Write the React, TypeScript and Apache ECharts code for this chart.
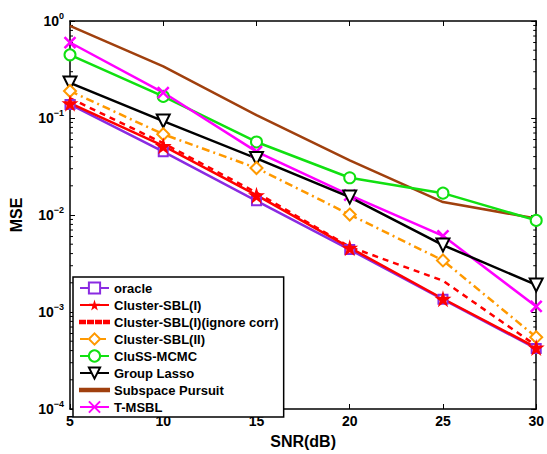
import React, { useEffect, useRef } from "react";
import * as echarts from "echarts";

const snr = [5, 10, 15, 20, 25, 30];
const oracle = [0.138, 0.045, 0.014, 0.0044, 0.00135, 0.00042];
const clusterSBL1 = [0.142, 0.0516, 0.016, 0.0046, 0.00137, 0.00043];
const clusterSBL1Ignore = [0.16, 0.055, 0.017, 0.0047, 0.0021, 0.00045];
const clusterSBL2 = [0.19, 0.068, 0.0305, 0.0101, 0.0034, 0.00055];
const clussMCMC = [0.448, 0.167, 0.0566, 0.0242, 0.0168, 0.0088];
const groupLasso = [0.23, 0.093, 0.0383, 0.0153, 0.0049, 0.0019];
const subspacePursuit = [0.89, 0.34, 0.107, 0.0366, 0.0136, 0.0092];
const tMSBL = [0.6, 0.183, 0.045, 0.016, 0.0061, 0.00114];

const legendNames = [
  "oracle",
  "Cluster-SBL(I)",
  "Cluster-SBL(I)(ignore corr)",
  "Cluster-SBL(II)",
  "CluSS-MCMC",
  "Group Lasso",
  "Subspace Pursuit",
  "T-MSBL",
];

const decades = [1e-4, 1e-3, 1e-2, 1e-1];
const minorMultipliers = [2, 3, 4, 5, 6, 7, 8, 9];
const superscripts: Record<string, string> = {
  "1": "0",
  "0.1": "−1",
  "0.01": "−2",
  "0.001": "−3",
  "0.0001": "−4",
};

const STAR = "path://M50,0 L61,35 L98,35 L68,57 L79,91 L50,70 L21,91 L32,57 L2,35 L39,35 Z";
const TRI_DOWN = "path://M0,0 L20,0 L10,18 Z";
const XMARK = "path://M0,0 L10,10 M10,0 L0,10";
const SOLID_ICON = "path://M0,0 H29 V2.5 H0 Z";
const DASH_ICON = "path://M0,0 H5 V2.5 H0 Z M8,0 H13 V2.5 H8 Z M16,0 H21 V2.5 H16 Z M24,0 H29 V2.5 H24 Z";

export default function App() {
  const ref = useRef<HTMLDivElement>(null);
  useEffect(() => {
    if (!ref.current) return;
    const chart = echarts.init(ref.current, undefined, { renderer: "svg" });
    const font = "Liberation Sans, Arial, Helvetica, sans-serif";
    const mk = (d: number[]) => d.map((v, i) => [snr[i], v]);
    const minorTicks: number[][] = [];
    decades.forEach((d) => minorMultipliers.forEach((m) => minorTicks.push([5, m * d])));

    const line = (
      name: string,
      data: number[],
      color: string,
      symbol: string,
      symbolSize: number,
      extra: any = {}
    ) => ({
      name,
      type: "line",
      data: mk(data),
      symbol,
      symbolSize,
      showSymbol: symbol !== "none",
      lineStyle: { color, width: 2.5, type: extra.lineType || "solid" },
      itemStyle: extra.itemStyle || { color, borderColor: color, borderWidth: 2 },
      z: extra.z || 2,
    });

    const yLabel = {
      show: true,
      margin: 6,
      formatter: (v: number) => {
        const key = String(v);
        const s = superscripts[key];
        return s ? `{b|10}{s|${s}}` : "";
      },
      rich: {
        b: { fontSize: 14, fontWeight: "bold", fontFamily: font, color: "#000" },
        s: { fontSize: 9, fontWeight: "bold", fontFamily: font, color: "#000", padding: [0, 0, 10, 0] },
      },
    };

    const tickStyle = { inside: true, length: 5, lineStyle: { color: "#000" } };

    chart.setOption({
      animation: false,
      backgroundColor: "#fff",
      grid: { left: 70, right: 9, top: 21, bottom: 32 },
      xAxis: [
        {
          type: "value",
          min: 5,
          max: 30,
          interval: 5,
          name: "SNR(dB)",
          nameLocation: "middle",
          nameGap: 24,
          nameTextStyle: { fontSize: 16, fontWeight: "bold", fontFamily: font, color: "#000" },
          axisLine: { lineStyle: { color: "#000", width: 1.5 } },
          axisTick: tickStyle,
          axisLabel: { fontSize: 14, fontWeight: "bold", fontFamily: font, color: "#000", margin: 5 },
          splitLine: { show: false },
        },
        {
          type: "value",
          position: "top",
          min: 5,
          max: 30,
          interval: 5,
          axisLine: { lineStyle: { color: "#000", width: 1.5 } },
          axisTick: tickStyle,
          axisLabel: { show: false },
          splitLine: { show: false },
        },
      ],
      yAxis: [
        {
          type: "log",
          logBase: 10,
          min: 1e-4,
          max: 1,
          name: "MSE",
          nameLocation: "middle",
          nameGap: 46,
          nameTextStyle: { fontSize: 16, fontWeight: "bold", fontFamily: font, color: "#000" },
          axisLine: { show: true, lineStyle: { color: "#000", width: 1.5 } },
          axisTick: { show: true, ...tickStyle },
          axisLabel: yLabel,
          splitLine: { show: false },
        },
        {
          type: "log",
          logBase: 10,
          min: 1e-4,
          max: 1,
          position: "right",
          axisLine: { show: true, lineStyle: { color: "#000", width: 1.5 } },
          axisTick: { show: true, ...tickStyle },
          axisLabel: { show: false },
          splitLine: { show: false },
        },
      ],
      legend: {
        left: 73,
        top: 277,
        orient: "vertical",
        backgroundColor: "#fff",
        borderColor: "#000",
        borderWidth: 1.5,
        padding: [4, 5, 3, 6],
        itemGap: 3,
        itemWidth: 29,
        itemHeight: 14,
        textStyle: { fontSize: 13, lineHeight: 14, fontWeight: "bold", fontFamily: font, color: "#000" },
        data: legendNames.map((n) =>
          n === "Subspace Pursuit"
            ? { name: n, icon: SOLID_ICON }
            : n === "Cluster-SBL(I)(ignore corr)"
            ? { name: n, icon: DASH_ICON }
            : { name: n }
        ),
      },
      series: [
        {
          name: "minorTicks",
          type: "custom",
          data: minorTicks,
          silent: true,
          clip: false,
          z: 1,
          renderItem: (params: any, api: any) => {
            const cs = params.coordSys;
            const y = api.coord([5, api.value(1)])[1];
            return {
              type: "group",
              children: [
                { type: "line", shape: { x1: cs.x, y1: y, x2: cs.x + 3, y2: y }, style: { stroke: "#000", lineWidth: 1 } },
                {
                  type: "line",
                  shape: { x1: cs.x + cs.width - 3, y1: y, x2: cs.x + cs.width, y2: y },
                  style: { stroke: "#000", lineWidth: 1 },
                },
              ],
            };
          },
        },
        line("Subspace Pursuit", subspacePursuit, "#a0400e", "none", 0),
        line("CluSS-MCMC", clussMCMC, "#11e011", "emptyCircle", 11),
        line("T-MSBL", tMSBL, "#ff00ff", XMARK, 11, {
          itemStyle: { color: "rgba(0,0,0,0)", borderColor: "#ff00ff", borderWidth: 2.5 },
        }),
        line("Group Lasso", groupLasso, "#000000", TRI_DOWN, 13, {
          itemStyle: { color: "#fff", borderColor: "#000", borderWidth: 2 },
        }),
        line("Cluster-SBL(II)", clusterSBL2, "#ff9900", "emptyDiamond", 12, { lineType: [8, 4, 2, 4] }),
        line("oracle", oracle, "#8a2be2", "emptyRect", 9),
        line("Cluster-SBL(I)(ignore corr)", clusterSBL1Ignore, "#ff0000", "none", 0, { lineType: [6, 5] }),
        line("Cluster-SBL(I)", clusterSBL1, "#ff0000", STAR, 17, {
          itemStyle: { color: "#ff0000", borderColor: "#ff0000", borderWidth: 0 },
        }),
      ],
    });
    return () => chart.dispose();
  }, []);
  return (
    <div
      ref={ref}
      style={{ position: "absolute", left: 0, top: 0, width: 547, height: 454, overflow: "hidden" }}
    />
  );
}
